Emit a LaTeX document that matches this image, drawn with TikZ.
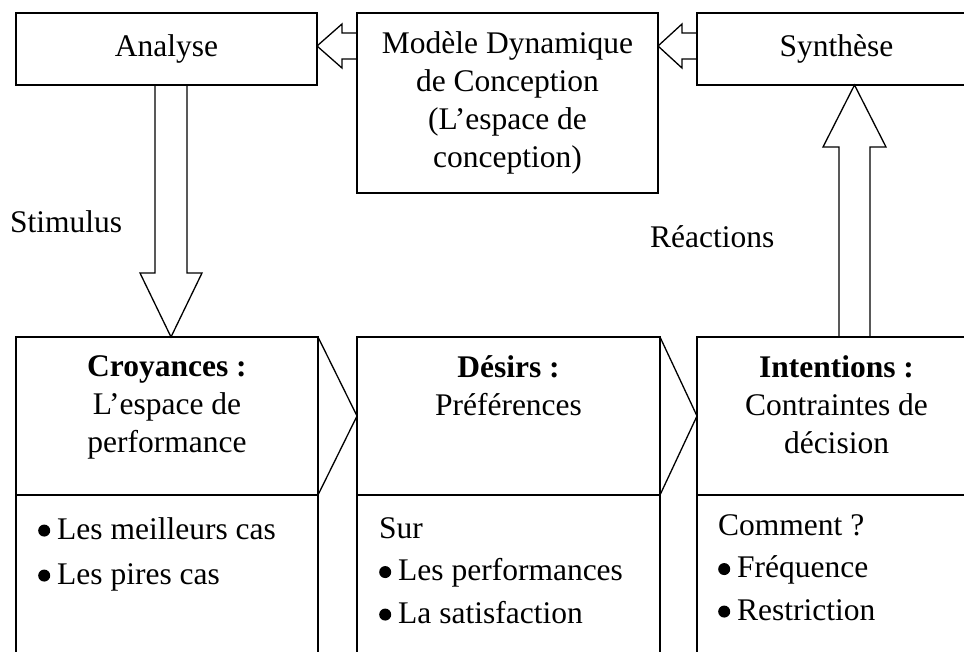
\documentclass[tikz,border=0pt]{standalone}
\usepackage{fontspec}
\setmainfont{Liberation Serif}
\usetikzlibrary{positioning}

\newcommand{\puce}{\makebox[19pt][l]{\raisebox{2.5pt}{\pgfpicture\pgfpathcircle{\pgfpoint{6pt}{6pt}}{6pt}\pgfusepath{fill}\endpgfpicture}}}

\tikzset{
	box/.style={draw, line width=1.6pt, inner sep=0pt, outer sep=0pt},
	boxtext/.style={align=center, inner sep=0pt},
	listtext/.style={align=left, inner sep=0pt, anchor=north west},
	blockarrow/.style={draw, line width=1.3pt, line join=miter},
}

\begin{document}
\begin{tikzpicture}[x=1pt,y=1pt,yscale=-1,font=\fontsize{31.5}{38}\selectfont]
	\useasboundingbox (0,0) rectangle (964,651);
	\clip (0,0) rectangle (964,651);

	% Top boxes
	\node [box, minimum width=301pt, minimum height=72pt] (Analyse) at (166.5,49) {Analyse};
	\node [box, boxtext, minimum width=301pt, minimum height=180pt] (Modele) at (507.5,103) {Modèle Dynamique\\de Conception\\(L’espace de\\conception)};
	\node [box, minimum width=279pt, minimum height=72pt] (Synthese) at (836.5,49) {Synthèse};

	% Bottom boxes, upper part
	\node [box, minimum width=302pt, minimum height=158pt] (Croyances) at (167,416) {};
	\node [box, minimum width=303pt, minimum height=158pt] (Desirs) at (508.5,416) {};
	\node [box, minimum width=279pt, minimum height=158pt] (Intentions) at (836.5,416) {};
	% Bottom boxes, lower part
	\node [box, minimum width=302pt, minimum height=200pt, anchor=north] (CroyancesBas) at (Croyances.south) {};
	\node [box, minimum width=303pt, minimum height=200pt, anchor=north] (DesirsBas) at (Desirs.south) {};
	\node [box, minimum width=279pt, minimum height=200pt, anchor=north] (IntentionsBas) at (Intentions.south) {};

	% Text Node
	\node [boxtext, anchor=north] (CroyancesTxt) at (167,355) {\textbf{Croyances :}\\L’espace de\\performance};
	\node [boxtext, anchor=north] (DesirsTxt) at (508.5,355) {\textbf{Désirs :}\\Préférences};
	\node [boxtext, anchor=north] (IntentionsTxt) at (836.5,355) {\textbf{Intentions :}\\Contraintes de\\décision};
	% Text Node
	\node [listtext] (CroyancesListe) at (38,517) {\puce Les meilleurs cas\\[7pt]\puce Les pires cas};
	\node [listtext] (DesirsListe) at (379,517) {Sur\\[4.5pt]\puce Les performances\\[4.5pt]\puce La satisfaction};
	\node [listtext] (IntentionsListe) at (718,514) {Comment ?\\[4.5pt]\puce Fréquence\\[4.5pt]\puce Restriction};
	% Text Node
	\node [anchor=base west, inner sep=0pt] (Stimulus) at (10,232) {Stimulus};
	\node [anchor=base west, inner sep=0pt] (Reactions) at (650,247) {Réactions};

	% Connection
	\draw [blockarrow] (Modele.west |- 0,33) -- (342,33) -- (342,24) -- (Analyse.east |- 0,46) -- (342,68) -- (342,59) -- (Modele.west |- 0,59) -- cycle;
	% Connection
	\draw [blockarrow] (Synthese.west |- 0,33) -- (682,33) -- (682,24) -- (Modele.east |- 0,46) -- (682,68) -- (682,59) -- (Synthese.west |- 0,59) -- cycle;
	% Connection
	\draw [blockarrow] (155,0 |- Analyse.south) -- (155,273) -- (140,273) -- (171,0 |- Croyances.north) -- (202,273) -- (187,273) -- (187,0 |- Analyse.south) -- cycle;
	% Connection
	\draw [blockarrow] (839,0 |- Intentions.north) -- (839,147) -- (823,147) -- (854.5,0 |- Synthese.south) -- (886,147) -- (870,147) -- (870,0 |- Intentions.north) -- cycle;
	% Connection
	\draw [blockarrow] (Croyances.north east) -- (Desirs.west) -- (Croyances.south east);
	\draw [blockarrow] (Desirs.north east) -- (Intentions.west) -- (Desirs.south east);
\end{tikzpicture}
\end{document}
